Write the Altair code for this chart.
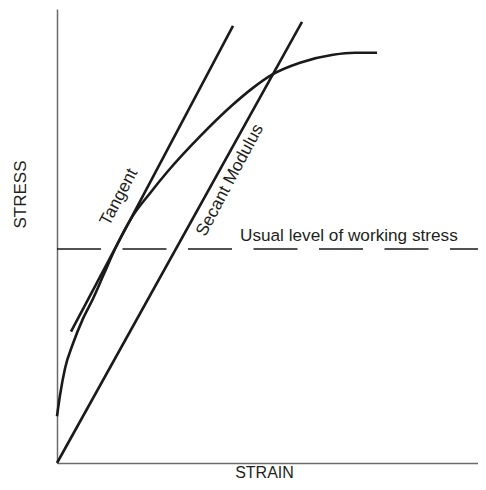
import altair as alt
import pandas as pd

# Stress-strain curve (arbitrary units)
curve_strain = [0, 3, 8, 16, 26, 36, 47, 58, 75, 93, 110, 143, 176, 195, 215, 243, 276, 298, 320]
curve_stress = [47, 68, 95, 120, 145, 165, 190, 215, 247, 271, 292, 328, 360, 376, 390, 402, 410, 412, 412]

tangent_strain = [14, 176]
tangent_stress = [132, 439]

secant_strain = [0, 245]
secant_stress = [0, 443]

working_stress = 215
strain_max = 421
stress_max = 456

labels = ["Tangent", "Secant Modulus"]
label_strain = [62, 173]
label_stress = [267, 284]

working_label = "Usual level of working stress"
working_label_strain = 183
working_label_stress = 223

FONT = "Liberation Sans"
TXT = "#231f20"

xs = alt.Scale(domain=[0, strain_max], nice=False, zero=False)
ys = alt.Scale(domain=[0, stress_max], nice=False, zero=False)

curve_df = pd.DataFrame({"strain": curve_strain, "stress": curve_stress})
tan_df = pd.DataFrame({"strain": tangent_strain, "stress": tangent_stress})
sec_df = pd.DataFrame({"strain": secant_strain, "stress": secant_stress})
work_df = pd.DataFrame({"strain": [0], "strain2": [strain_max], "stress": [working_stress]})
lab_df = pd.DataFrame({"label": labels, "strain": label_strain, "stress": label_stress})
wl_df = pd.DataFrame({"label": [working_label], "strain": [working_label_strain],
                      "stress": [working_label_stress]})

x_axis = alt.Axis(title="STRAIN", ticks=False, labels=False, grid=False,
                  domainColor="#6b6b6b", domainWidth=1.5,
                  titleFont=FONT, titleFontSize=16, titleFontWeight="normal",
                  titleColor=TXT, titleX=207, titleY=9, titleBaseline="middle",
                  titleAlign="center")
y_axis = alt.Axis(title="STRESS", ticks=False, labels=False, grid=False,
                  domainColor="#6b6b6b", domainWidth=1.5,
                  titleFont=FONT, titleFontSize=17, titleFontWeight="normal",
                  titleColor=TXT, titleX=-37, titleY=185, titleAngle=270,
                  titleBaseline="middle", titleAlign="center")

X = alt.X("strain:Q", scale=xs, axis=x_axis)
Y = alt.Y("stress:Q", scale=ys, axis=y_axis)

curve = alt.Chart(curve_df).mark_line(
    color="#1a1a1a", strokeWidth=2.6, interpolate="monotone"
).encode(x=X, y=Y)

tangent = alt.Chart(tan_df).mark_line(color="#1a1a1a", strokeWidth=2.6).encode(x=X, y=Y)

secant = alt.Chart(sec_df).mark_line(color="#1a1a1a", strokeWidth=2.6).encode(x=X, y=Y)

work = alt.Chart(work_df).mark_rule(
    color="#1a1a1a", strokeWidth=1.4, strokeDash=[44, 21.5]
).encode(x=X, x2="strain2:Q", y=Y)

rot_labels = alt.Chart(lab_df).mark_text(
    angle=298, font=FONT, fontSize=17.3, color=TXT, align="center", baseline="middle"
).encode(x=X, y=Y, text="label:N")

work_label = alt.Chart(wl_df).mark_text(
    font=FONT, fontSize=17.2, color=TXT, align="left", baseline="alphabetic"
).encode(x=X, y=Y, text="label:N")

chart = alt.layer(curve, tangent, secant, work, rot_labels, work_label).properties(
    width=strain_max,
    height=454,
    padding={"left": 49, "top": 1, "right": 0, "bottom": 19},
    autosize=alt.AutoSizeParams(type="none"),
    background="white",
).configure_view(stroke=None)

chart.save("out.html", embed_options={"renderer": "svg", "actions": False})
